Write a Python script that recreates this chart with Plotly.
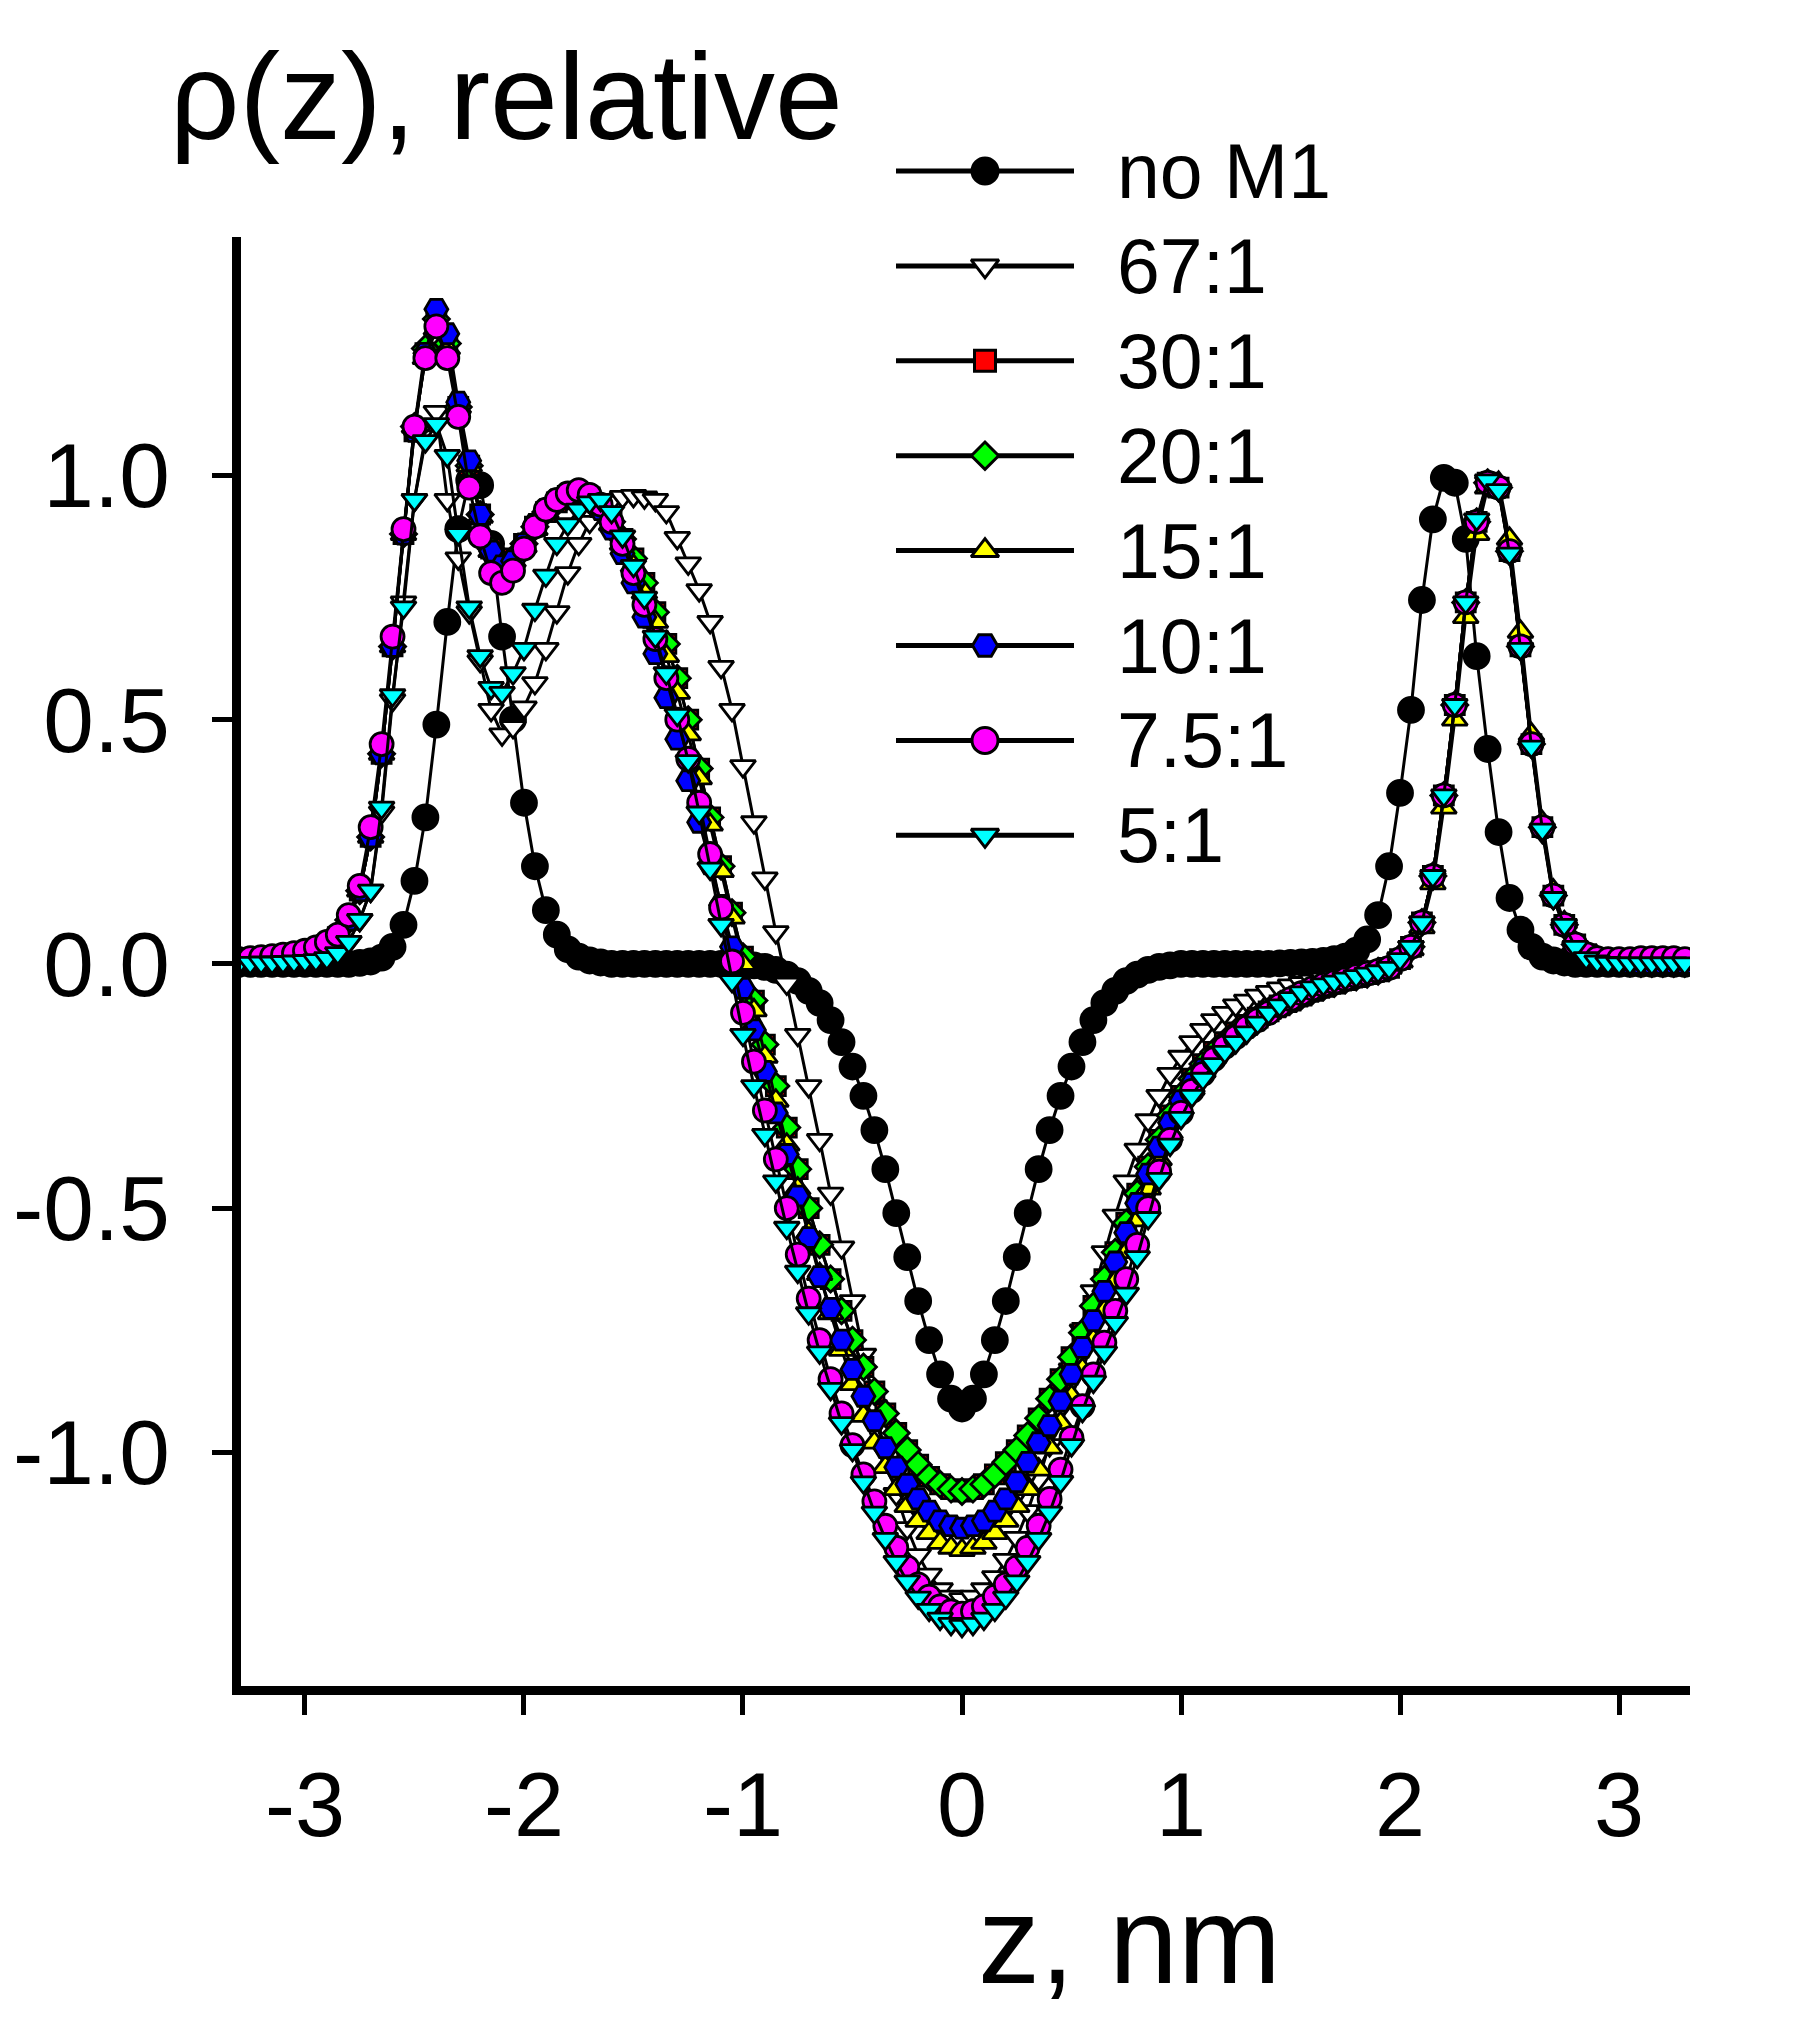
import plotly.graph_objects as go

# ---------------- data ----------------
Z0 = -3.30          # first z bin, nm
DZ = 0.05           # bin width, nm

SERIES_NAMES = ["no M1", "67:1", "30:1", "20:1", "15:1", "10:1", "7.5:1", "5:1"]

NO_M1 = [
    0, 0, 0, 0, 0, 0, 0, 0, 0, 0,
    0, 0.002, 0.005, 0.013, 0.035, 0.08, 0.17, 0.30, 0.49, 0.70,
    0.89, 0.99, 0.98, 0.86, 0.67, 0.50, 0.33, 0.20, 0.11, 0.06,
    0.03, 0.015, 0.007, 0.003, 0, 0, 0, 0, 0, 0,
    0, 0, 0, 0, 0, 0, 0, -0.003, -0.006, -0.012,
    -0.022, -0.035, -0.055, -0.08, -0.115, -0.16, -0.21, -0.27, -0.34, -0.42,
    -0.51, -0.60, -0.69, -0.77, -0.84, -0.89, -0.91, -0.89, -0.84, -0.77,
    -0.69, -0.60, -0.51, -0.42, -0.34, -0.27, -0.21, -0.16, -0.115, -0.08,
    -0.055, -0.035, -0.022, -0.012, -0.006, -0.003, 0, 0, 0, 0,
    0, 0, 0, 0, 0, 0.001, 0.002, 0.003, 0.004, 0.006,
    0.01, 0.015, 0.027, 0.05, 0.10, 0.20, 0.35, 0.52, 0.745, 0.91,
    0.995, 0.985, 0.87, 0.63, 0.44, 0.27, 0.135, 0.07, 0.035, 0.015,
    0.007, 0.003, 0, 0, 0, 0, 0, 0, 0, 0,
    0, 0, 0,
]

R67 = [
    0.002, 0.002, 0.003, 0.003, 0.004, 0.005, 0.006, 0.008, 0.012, 0.022,
    0.045, 0.09, 0.15, 0.31, 0.54, 0.74, 0.95, 1.08, 1.13, 0.95,
    0.83, 0.72, 0.62, 0.52, 0.47, 0.485, 0.525, 0.575, 0.645, 0.72,
    0.80, 0.86, 0.905, 0.932, 0.948, 0.956, 0.958, 0.955, 0.95, 0.925,
    0.872, 0.82, 0.765, 0.70, 0.608, 0.52, 0.405, 0.29, 0.175, 0.065,
    -0.04, -0.145, -0.25, -0.36, -0.47, -0.58, -0.69, -0.80, -0.905, -1.00,
    -1.085, -1.155, -1.21, -1.25, -1.28, -1.295, -1.30, -1.295, -1.28, -1.255,
    -1.22, -1.175, -1.12, -1.055, -0.985, -0.91, -0.83, -0.75, -0.67, -0.59,
    -0.515, -0.445, -0.38, -0.32, -0.27, -0.225, -0.19, -0.16, -0.135, -0.115,
    -0.10, -0.085, -0.075, -0.065, -0.057, -0.05, -0.044, -0.039, -0.034, -0.03,
    -0.026, -0.022, -0.018, -0.014, -0.01, -0.005, 0.012, 0.035, 0.085, 0.175,
    0.335, 0.52, 0.73, 0.90, 0.985, 0.97, 0.84, 0.645, 0.445, 0.27,
    0.135, 0.075, 0.035, 0.012, 0.005, 0.002, 0, 0, 0, 0,
    0, 0, 0,
]

R30 = [
    0.004, 0.005, 0.007, 0.009, 0.012, 0.016, 0.021, 0.028, 0.038, 0.055,
    0.09, 0.15, 0.26, 0.43, 0.65, 0.88, 1.09, 1.25, 1.31, 1.26,
    1.14, 1.02, 0.92, 0.85, 0.82, 0.83, 0.86, 0.895, 0.925, 0.945,
    0.958, 0.962, 0.955, 0.935, 0.905, 0.87, 0.83, 0.78, 0.72, 0.655,
    0.585, 0.50, 0.40, 0.30, 0.20, 0.105, 0.015, -0.075, -0.165, -0.25,
    -0.335, -0.42, -0.50, -0.575, -0.645, -0.71, -0.77, -0.825, -0.875, -0.92,
    -0.96, -0.995, -1.025, -1.05, -1.065, -1.075, -1.08, -1.075, -1.065, -1.045,
    -1.02, -0.995, -0.965, -0.93, -0.89, -0.85, -0.805, -0.755, -0.70, -0.645,
    -0.59, -0.53, -0.47, -0.415, -0.36, -0.31, -0.27, -0.235, -0.205, -0.18,
    -0.16, -0.14, -0.125, -0.11, -0.097, -0.085, -0.075, -0.065, -0.055, -0.047,
    -0.04, -0.033, -0.027, -0.021, -0.015, -0.008, 0.01, 0.035, 0.085, 0.18,
    0.345, 0.53, 0.74, 0.905, 0.985, 0.975, 0.845, 0.65, 0.45, 0.28,
    0.14, 0.08, 0.04, 0.02, 0.01, 0.005, 0.003, 0.002, 0.001, 0.001,
    0.001, 0.001, 0.001,
]

R20 = [
    0.004, 0.005, 0.007, 0.009, 0.012, 0.016, 0.021, 0.028, 0.038, 0.055,
    0.09, 0.15, 0.26, 0.43, 0.65, 0.88, 1.10, 1.26, 1.32, 1.27,
    1.14, 1.02, 0.92, 0.85, 0.82, 0.83, 0.86, 0.895, 0.925, 0.945,
    0.958, 0.962, 0.955, 0.935, 0.905, 0.87, 0.83, 0.78, 0.72, 0.655,
    0.585, 0.50, 0.40, 0.30, 0.20, 0.105, 0.015, -0.075, -0.165, -0.25,
    -0.335, -0.42, -0.50, -0.575, -0.645, -0.71, -0.77, -0.825, -0.875, -0.92,
    -0.96, -0.995, -1.025, -1.05, -1.065, -1.075, -1.08, -1.075, -1.065, -1.045,
    -1.02, -0.995, -0.965, -0.93, -0.89, -0.85, -0.805, -0.755, -0.70, -0.645,
    -0.59, -0.53, -0.47, -0.415, -0.36, -0.31, -0.27, -0.235, -0.205, -0.18,
    -0.16, -0.14, -0.125, -0.11, -0.097, -0.085, -0.075, -0.065, -0.055, -0.047,
    -0.04, -0.033, -0.027, -0.021, -0.015, -0.008, 0.01, 0.035, 0.085, 0.18,
    0.345, 0.53, 0.74, 0.905, 0.985, 0.975, 0.845, 0.65, 0.45, 0.28,
    0.14, 0.08, 0.04, 0.02, 0.01, 0.005, 0.003, 0.002, 0.001, 0.001,
    0.001, 0.001, 0.001,
]

R15 = [
    0.004, 0.005, 0.007, 0.009, 0.012, 0.016, 0.021, 0.028, 0.038, 0.055,
    0.09, 0.15, 0.26, 0.43, 0.65, 0.88, 1.10, 1.24, 1.30, 1.26,
    1.14, 1.02, 0.915, 0.845, 0.815, 0.825, 0.855, 0.89, 0.925, 0.945,
    0.958, 0.962, 0.955, 0.935, 0.90, 0.86, 0.815, 0.76, 0.70, 0.63,
    0.555, 0.47, 0.38, 0.285, 0.19, 0.095, 0, -0.095, -0.19, -0.28,
    -0.37, -0.46, -0.55, -0.635, -0.715, -0.79, -0.86, -0.925, -0.98, -1.03,
    -1.075, -1.11, -1.14, -1.165, -1.185, -1.195, -1.20, -1.195, -1.185, -1.165,
    -1.14, -1.11, -1.075, -1.035, -0.99, -0.94, -0.885, -0.83, -0.77, -0.71,
    -0.65, -0.59, -0.525, -0.46, -0.40, -0.345, -0.295, -0.255, -0.22, -0.19,
    -0.165, -0.145, -0.128, -0.113, -0.10, -0.088, -0.077, -0.066, -0.056, -0.048,
    -0.04, -0.033, -0.027, -0.021, -0.015, -0.008, 0.005, 0.03, 0.075, 0.165,
    0.32, 0.50, 0.71, 0.88, 0.975, 0.985, 0.87, 0.68, 0.47, 0.29,
    0.15, 0.085, 0.04, 0.02, 0.01, 0.005, 0.003, 0.002, 0.001, 0.001,
    0.001, 0.001, 0.001,
]

R10 = [
    0.004, 0.005, 0.007, 0.009, 0.012, 0.016, 0.021, 0.028, 0.038, 0.055,
    0.09, 0.15, 0.26, 0.43, 0.65, 0.88, 1.09, 1.25, 1.34, 1.29,
    1.15, 1.03, 0.92, 0.845, 0.815, 0.825, 0.86, 0.90, 0.93, 0.95,
    0.962, 0.965, 0.955, 0.93, 0.89, 0.84, 0.78, 0.71, 0.635, 0.545,
    0.46, 0.375, 0.29, 0.205, 0.12, 0.035, -0.05, -0.135, -0.22, -0.305,
    -0.39, -0.475, -0.56, -0.64, -0.705, -0.77, -0.83, -0.885, -0.935, -0.99,
    -1.03, -1.065, -1.095, -1.12, -1.14, -1.15, -1.155, -1.15, -1.14, -1.12,
    -1.095, -1.06, -1.02, -0.98, -0.945, -0.895, -0.84, -0.785, -0.73, -0.67,
    -0.61, -0.55, -0.49, -0.43, -0.375, -0.325, -0.28, -0.245, -0.215, -0.19,
    -0.165, -0.145, -0.13, -0.115, -0.10, -0.088, -0.077, -0.066, -0.056, -0.048,
    -0.04, -0.033, -0.027, -0.021, -0.015, -0.008, 0.01, 0.035, 0.085, 0.18,
    0.345, 0.53, 0.74, 0.905, 0.985, 0.975, 0.845, 0.65, 0.45, 0.28,
    0.14, 0.08, 0.04, 0.02, 0.01, 0.005, 0.003, 0.002, 0.001, 0.001,
    0.001, 0.001, 0.001,
]

R7_5 = [
    0.01, 0.012, 0.014, 0.016, 0.019, 0.022, 0.027, 0.034, 0.045, 0.06,
    0.10, 0.16, 0.28, 0.45, 0.67, 0.89, 1.10, 1.24, 1.305, 1.24,
    1.12, 0.975, 0.875, 0.80, 0.78, 0.805, 0.85, 0.895, 0.93, 0.95,
    0.963, 0.97, 0.96, 0.94, 0.905, 0.86, 0.80, 0.735, 0.665, 0.585,
    0.50, 0.42, 0.33, 0.225, 0.115, 0.005, -0.10, -0.20, -0.30, -0.40,
    -0.50, -0.595, -0.685, -0.77, -0.85, -0.92, -0.985, -1.045, -1.10, -1.15,
    -1.195, -1.235, -1.27, -1.295, -1.315, -1.325, -1.33, -1.325, -1.315, -1.295,
    -1.27, -1.235, -1.195, -1.15, -1.095, -1.035, -0.97, -0.905, -0.84, -0.775,
    -0.71, -0.645, -0.575, -0.50, -0.425, -0.36, -0.305, -0.26, -0.225, -0.195,
    -0.17, -0.15, -0.13, -0.115, -0.10, -0.085, -0.072, -0.06, -0.05, -0.043,
    -0.037, -0.031, -0.025, -0.02, -0.014, -0.008, 0.01, 0.035, 0.085, 0.18,
    0.345, 0.53, 0.74, 0.905, 0.985, 0.975, 0.845, 0.65, 0.45, 0.28,
    0.14, 0.08, 0.04, 0.02, 0.012, 0.01, 0.01, 0.01, 0.012, 0.012,
    0.012, 0.012, 0.01,
]

R5 = [
    0.002, 0.002, 0.003, 0.003, 0.004, 0.005, 0.006, 0.008, 0.012, 0.022,
    0.045, 0.09, 0.15, 0.32, 0.55, 0.73, 0.95, 1.07, 1.105, 1.04,
    0.88, 0.73, 0.63, 0.565, 0.555, 0.595, 0.645, 0.725, 0.795, 0.86,
    0.90, 0.93, 0.945, 0.95, 0.925, 0.875, 0.815, 0.75, 0.67, 0.595,
    0.51, 0.415, 0.31, 0.195, 0.08, -0.035, -0.145, -0.25, -0.35, -0.445,
    -0.54, -0.63, -0.715, -0.795, -0.87, -0.94, -0.995, -1.061, -1.123, -1.177,
    -1.224, -1.264, -1.297, -1.322, -1.34, -1.351, -1.355, -1.351, -1.34, -1.322,
    -1.297, -1.264, -1.224, -1.177, -1.123, -1.06, -0.985, -0.915, -0.855, -0.795,
    -0.735, -0.675, -0.60, -0.52, -0.44, -0.37, -0.315, -0.27, -0.235, -0.205,
    -0.18, -0.16, -0.14, -0.12, -0.10, -0.085, -0.07, -0.058, -0.048, -0.042,
    -0.036, -0.03, -0.025, -0.02, -0.015, -0.008, 0.01, 0.035, 0.085, 0.18,
    0.345, 0.53, 0.74, 0.91, 0.99, 0.97, 0.84, 0.645, 0.445, 0.275,
    0.135, 0.08, 0.035, 0.012, 0.005, 0.002, 0.001, 0.001, 0.001, 0.001,
    0.001, 0.001, 0.001,
]

SERIES_VALUES = [NO_M1, R67, R30, R20, R15, R10, R7_5, R5]

X_TICK_VALS = [-3, -2, -1, 0, 1, 2, 3]
X_TICK_TEXT = ["-3", "-2", "-1", "0", "1", "2", "3"]
Y_TICK_VALS = [-1.0, -0.5, 0.0, 0.5, 1.0]
Y_TICK_TEXT = ["-1.0", "-0.5", "0.0", "0.5", "1.0"]

# ---------------- styles ----------------
FONT = "Arial, 'Liberation Sans', Helvetica, sans-serif"
MARKERS = [
    dict(symbol="circle", color="black", size=25, leg=26),
    dict(symbol="triangle-down", color="white", size=22, leg=24),
    dict(symbol="square", color="red", size=19, leg=21),
    dict(symbol="diamond", color="#00ff00", size=20, leg=21),
    dict(symbol="triangle-up", color="yellow", size=22, leg=24),
    dict(symbol="hexagon2", color="blue", size=23, leg=25),
    dict(symbol="circle", color="magenta", size=23, leg=26),
    dict(symbol="triangle-down", color="cyan", size=22, leg=24),
]

# page geometry (the html body adds an 8 px margin around the figure)
BODY = 8
W, H = 1803 - 2 * BODY, 2027 - 2 * BODY
PLOT_L, PLOT_R = 241 - BODY, 1690 - BODY      # plot area in figure px
PLOT_T, PLOT_B = 237 - BODY, 1686 - BODY
PAPER_T = 120 - BODY
M_L, M_R, M_T, M_B = PLOT_L, W - PLOT_R, PAPER_T, H - PLOT_B
PAPER_W = W - M_L - M_R
PAPER_H = H - M_T - M_B


def px_x(page_x):
    return (page_x - BODY - M_L) / PAPER_W


def px_y(page_y):
    return (H - M_B - (page_y - BODY)) / PAPER_H


fig = go.Figure()

for name, vals, mk in zip(SERIES_NAMES, SERIES_VALUES, MARKERS):
    fig.add_trace(go.Scatter(
        x0=Z0, dx=DZ, y=vals, name=name,
        mode="lines+markers",
        line=dict(color="black", width=3),
        marker=dict(symbol=mk["symbol"], color=mk["color"], size=mk["size"],
                    line=dict(color="black", width=2.8)),
        xaxis="x", yaxis="y", showlegend=False, hoverinfo="skip",
    ))

# ---------------- hand-made legend (helper axes in paper fractions) ----------------
LEG_LINE_X = [px_x(896), px_x(1074)]
LEG_MARK_X = px_x(985)
LEG_TEXT_X = px_x(1115)
LEG_ROW0_PAGE_Y = 171
LEG_DY_PAGE = 94.9

annotations = []
for i, (name, mk) in enumerate(zip(SERIES_NAMES, MARKERS)):
    yrow = px_y(LEG_ROW0_PAGE_Y + i * LEG_DY_PAGE)
    fig.add_trace(go.Scatter(
        x=LEG_LINE_X, y=[yrow, yrow], mode="lines",
        line=dict(color="black", width=5),
        xaxis="x2", yaxis="y2", showlegend=False, hoverinfo="skip",
    ))
    fig.add_trace(go.Scatter(
        x=[LEG_MARK_X], y=[yrow], mode="markers",
        marker=dict(symbol=mk["symbol"], color=mk["color"], size=mk["leg"],
                    line=dict(color="black", width=3)),
        xaxis="x2", yaxis="y2", showlegend=False, hoverinfo="skip",
    ))
    annotations.append(dict(
        x=LEG_TEXT_X, y=yrow, xref="paper", yref="paper", text=name,
        showarrow=False, xanchor="left", yanchor="middle",
        font=dict(size=77, color="black", family=FONT),
    ))

# axis titles
annotations.append(dict(
    x=px_x(168), y=px_y(97), xref="paper", yref="paper", text="ρ(z), relative",
    showarrow=False, xanchor="left", yanchor="middle",
    font=dict(size=122, color="black", family=FONT),
))
annotations.append(dict(
    x=px_x(976), y=px_y(1940), xref="paper", yref="paper", text="z, nm",
    showarrow=False, xanchor="left", yanchor="middle",
    font=dict(size=124, color="black", family=FONT),
))

axis_common = dict(
    showline=True, linewidth=9, linecolor="black",
    ticks="outside", ticklen=20, tickwidth=5, tickcolor="black",
    showgrid=False, zeroline=False, mirror=False, automargin=False,
)

fig.update_layout(
    width=W, height=H,
    margin=dict(l=M_L, r=M_R, t=M_T, b=M_B, pad=0, autoexpand=False),
    paper_bgcolor="white", plot_bgcolor="rgba(0,0,0,0)",
    showlegend=False,
    font=dict(family=FONT, color="black"),
    xaxis=dict(range=[-3.292, 3.324], domain=[0, 1], anchor="y",
               tickmode="array", tickvals=X_TICK_VALS, ticktext=X_TICK_TEXT,
               tickfont=dict(size=90, family=FONT, color="black"),
               ticklabelstandoff=13, **axis_common),
    yaxis=dict(range=[-1.478, 1.488],
               domain=[0, (PLOT_B - PLOT_T) / PAPER_H], anchor="x",
               tickmode="array", tickvals=Y_TICK_VALS, ticktext=Y_TICK_TEXT,
               tickfont=dict(size=91, family=FONT, color="black"),
               ticklabelstandoff=24, **axis_common),
    xaxis2=dict(domain=[0, 1], range=[0, 1], anchor="y2", visible=False,
                automargin=False),
    yaxis2=dict(domain=[0, 1], range=[0, 1], anchor="x2", visible=False,
                automargin=False),
    annotations=annotations,
)

fig.write_html("out.html")
